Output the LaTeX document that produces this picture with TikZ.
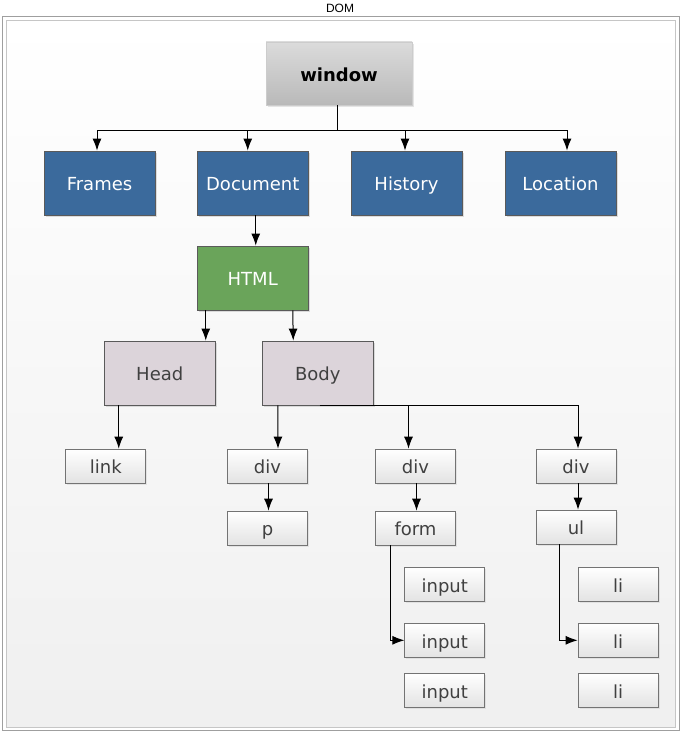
\documentclass[tikz,border=0pt]{standalone}
\usepackage{fontspec}
\setmainfont{DejaVu Sans}
\newfontfamily\domfont{Liberation Sans}
\usetikzlibrary{arrows.meta,shadows,calc}
\definecolor{bluebox}{HTML}{3B6A9C}
\definecolor{greenbox}{HTML}{6AA45A}
\definecolor{headbox}{HTML}{DCD4DA}
\definecolor{txtgray}{HTML}{404040}
\definecolor{bordergray}{HTML}{5A5A5A}
\begin{document}
\begin{tikzpicture}[x=1pt,y=-1pt,
  lbl/.style={font=\fontsize{18}{21}\selectfont,text height=17pt,text depth=1.5pt},
  bigbox/.style={lbl,rectangle,inner sep=0pt,minimum width=111pt,minimum height=64pt,draw=bordergray,line width=0.8pt,
    drop shadow={shadow xshift=2pt,shadow yshift=-2pt,opacity=0.25}},
  bluenode/.style={bigbox,fill=bluebox,text=white},
  greennode/.style={bigbox,fill=greenbox,text=white},
  headnode/.style={bigbox,fill=headbox,text=txtgray},
  winnode/.style={lbl,rectangle,inner sep=0pt,minimum width=146pt,minimum height=63pt,draw=gray!40,
    top color=gray!28,bottom color=gray!55,font=\fontsize{18}{21}\selectfont\bfseries,
    drop shadow={shadow xshift=2pt,shadow yshift=-2pt,opacity=0.2}},
  smallnode/.style={lbl,rectangle,inner sep=0pt,minimum width=80pt,minimum height=34pt,draw=gray!90!black,line width=0.7pt,
    top color=white,bottom color=gray!22,text=txtgray,
    drop shadow={shadow xshift=1.5pt,shadow yshift=-1.5pt,opacity=0.15}},
  arr/.style={-{Latex[length=12pt,width=9pt]},line width=1pt,black},
  ln/.style={line width=1pt,black}]
\useasboundingbox (0,0) rectangle (681,733);
% frame
\node[font=\domfont\fontsize{12}{14}\selectfont] (domlbl) at (340,8) {DOM};
\draw[gray!75,line width=0.8pt] (2,16) rectangle (679,730);
\shade[top color=white,bottom color=gray!12,draw=gray!45,line width=0.6pt] (6,20) rectangle (675,727);
% nodes
\node[winnode] (window) at (339,73.5) {window};
\node[bluenode] (Frames) at (99.5,183) {Frames};
\node[bluenode] (Document) at (252.75,183) {Document};
\node[bluenode] (History) at (406.5,183) {History};
\node[bluenode] (Location) at (560.5,183) {Location};
\node[greennode] (HTML) at (252.75,278) {HTML};
\node[headnode] (Head) at (159.75,373) {Head};
\node[headnode] (Body) at (317.75,373) {Body};
\node[smallnode] (link) at (105.75,466) {link};
\node[smallnode] (div1) at (267.5,466) {div};
\node[smallnode] (p) at (267.5,528) {p};
\node[smallnode] (div2) at (415.5,466) {div};
\node[smallnode] (form) at (415.5,528) {form};
\node[smallnode] (div3) at (576,466) {div};
\node[smallnode] (ul) at (576,527) {ul};
\node[smallnode] (input1) at (444.75,584.3) {input};
\node[smallnode] (input2) at (444.75,640.3) {input};
\node[smallnode] (input3) at (444.75,690.3) {input};
\node[smallnode] (li1) at (618,584.3) {li};
\node[smallnode] (li2) at (618,640.3) {li};
\node[smallnode] (li3) at (618,690.3) {li};
% connectors
\coordinate (wj) at (337,131);
\draw[ln] ([xshift=-2pt]window.south) -- (wj);
\draw[arr] (wj) -| ([xshift=-2.5pt]Frames.north);
\draw[arr] (wj) -| ([xshift=-5pt]Document.north);
\draw[arr] (wj) -| ([xshift=-1.5pt]History.north);
\draw[arr] (wj) -| ([xshift=6.5pt]Location.north);
\draw[arr] ([xshift=3pt]Document.south) -- ([xshift=3pt]HTML.north);
\draw[arr] ([xshift=-47pt]HTML.south) -- ([xshift=46pt]Head.north);
\draw[arr] ([xshift=40pt]HTML.south) -- ([xshift=-24.5pt]Body.north);
\draw[arr] ([xshift=-41pt]Head.south) -- ([xshift=13pt]link.north);
\draw[arr] ([xshift=-40pt]Body.south) -- ([xshift=10.5pt]div1.north);
\draw[arr] ([xshift=2pt]Body.south) -| ([xshift=-7pt]div2.north);
\draw[arr] ([xshift=2pt]Body.south) -| ([xshift=2pt]div3.north);
\draw[arr] ([xshift=1pt]div1.south) -- ([xshift=1pt]p.north);
\draw[arr] ([xshift=1pt]div2.south) -- ([xshift=1pt]form.north);
\draw[arr] ([xshift=2pt]div3.south) -- ([xshift=2pt]ul.north);
\draw[arr] ([xshift=-25pt]form.south) |- (input2.west);
\draw[arr] ([xshift=-17pt]ul.south) |- (li2.west);
\end{tikzpicture}
\end{document}
